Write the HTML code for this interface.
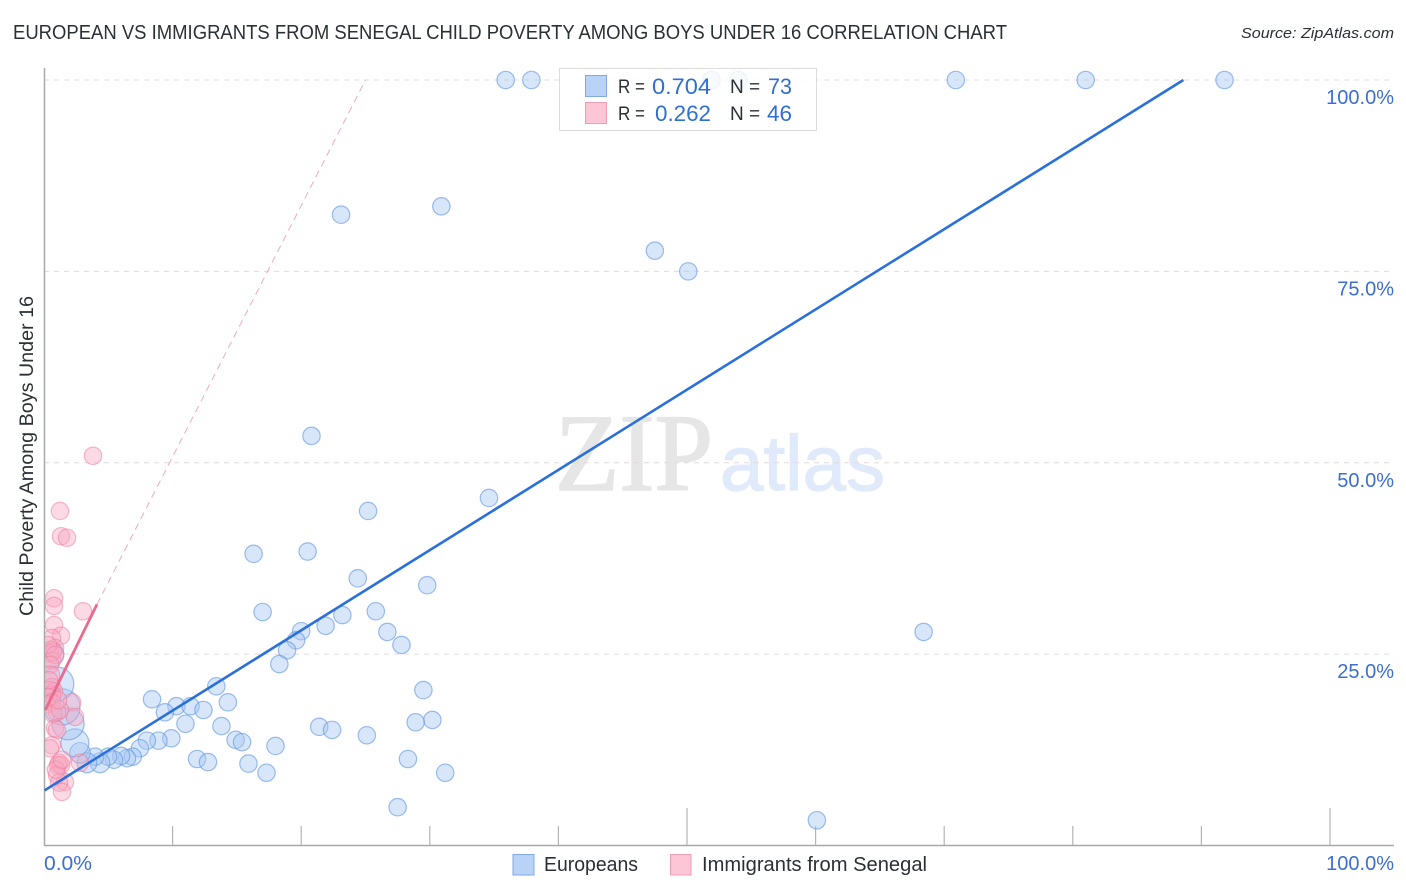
<!DOCTYPE html>
<html>
<head>
<meta charset="utf-8">
<title>European vs Immigrants from Senegal Child Poverty Among Boys Under 16 Correlation Chart</title>
<style>
html,body{margin:0;padding:0;background:#fff;width:1406px;height:892px;overflow:hidden}
svg{display:block;font-family:"Liberation Sans",sans-serif}
</style>
</head>
<body>
<svg id="chart" xmlns="http://www.w3.org/2000/svg" width="1406" height="892" viewBox="0 0 1406 892">
  <defs>
    <clipPath id="plot-clip"><rect x="45" y="60" width="1349" height="785"/></clipPath>
  </defs>
  <text x="13" y="39" font-size="20" fill="#2b2f36" textLength="994" lengthAdjust="spacingAndGlyphs">EUROPEAN VS IMMIGRANTS FROM SENEGAL CHILD POVERTY AMONG BOYS UNDER 16 CORRELATION CHART</text>
  <text x="1394" y="38" font-size="15" font-style="italic" fill="#2b2f36" text-anchor="end" textLength="153" lengthAdjust="spacingAndGlyphs">Source: ZipAtlas.com</text>
  <g>
    <text x="555" y="490" font-family="'Liberation Serif',serif" font-size="110" fill="#e6e6e6" stroke="#e6e6e6" stroke-width="1.6" textLength="158" lengthAdjust="spacingAndGlyphs">ZIP</text>
    <text x="720" y="490" font-size="78" fill="#e0eafa" stroke="#e0eafa" stroke-width="1.2" textLength="165" lengthAdjust="spacingAndGlyphs">atlas</text>
  </g>
  <g id="grid"></g>
  <g id="axes"></g>
  <g id="european-points" clip-path="url(#plot-clip)"></g>
  <g id="senegal-points" clip-path="url(#plot-clip)"></g>
  <g id="trends"></g>
  <g id="labels"></g>
  <text transform="translate(33,456) rotate(-90)" font-size="19" fill="#2b2f36" text-anchor="middle" textLength="320" lengthAdjust="spacingAndGlyphs">Child Poverty Among Boys Under 16</text>

  <g>
    <rect x="559.5" y="68.5" width="257" height="62" fill="#fff" fill-opacity="0.82" stroke="#dcdcdc" stroke-width="1"/>
    <rect x="585.5" y="75.5" width="21" height="21" fill="#b9d3f7" stroke="#7fa9e0"/>
    <rect x="585.5" y="102.5" width="21" height="21" fill="#fcc6d7" stroke="#f09db6"/>
    <text x="618" y="93" font-size="19" fill="#2b2f36" textLength="27" lengthAdjust="spacingAndGlyphs">R =</text>
    <text x="652" y="94" font-size="22" fill="#2f6fd0" textLength="59" lengthAdjust="spacingAndGlyphs">0.704</text>
    <text x="730" y="93" font-size="19" fill="#2b2f36">N =</text>
    <text x="768" y="94" font-size="22" fill="#2f6fd0" textLength="24" lengthAdjust="spacingAndGlyphs">73</text>
    <text x="618" y="120" font-size="19" fill="#2b2f36" textLength="27" lengthAdjust="spacingAndGlyphs">R =</text>
    <text x="655" y="121" font-size="22" fill="#2f6fd0" textLength="56" lengthAdjust="spacingAndGlyphs">0.262</text>
    <text x="730" y="120" font-size="19" fill="#2b2f36">N =</text>
    <text x="767" y="121" font-size="22" fill="#2f6fd0" textLength="25" lengthAdjust="spacingAndGlyphs">46</text>
  </g>

  <g>
    <g>
      <rect x="513" y="854.5" width="21" height="20.5" fill="#b9d3f7" stroke="#7fa9e0"/>
      <text x="544" y="871" font-size="20" fill="#2b2f36" textLength="94" lengthAdjust="spacingAndGlyphs">Europeans</text>
    </g>
    <g>
      <rect x="670.5" y="854.5" width="20.5" height="20.5" fill="#fcc6d7" stroke="#f09db6"/>
      <text x="702" y="871" font-size="20" fill="#2b2f36" textLength="225" lengthAdjust="spacingAndGlyphs">Immigrants from Senegal</text>
    </g>
  </g>
</svg>
<script>
const europeanX = [35.9,37.9,51.9,54.0,70.9,81.0,91.8,23.1,30.9,47.5,50.1,20.8,34.6,25.2,20.5,16.3,24.4,29.8,17.0,25.8,23.2,21.9,26.7,20.0,19.6,27.8,18.9,18.3,68.4,13.4,29.5,8.4,14.3,10.3,11.4,9.4,12.4,30.2,28.9,11.0,13.8,21.4,22.4,25.1,14.9,15.4,9.9,8.9,8.0,18.0,7.46,6.9,6.45,6.0,5.44,4.98,4.35,3.97,3.34,11.9,12.75,28.3,15.9,17.3,31.2,27.5,60.1,2.8,2.4,1.87,1.4,1.0,0.54];
const europeanY = [100,100,100,100,100,100,100,82.4,83.5,77.7,75.0,53.5,45.4,43.7,38.4,38.1,34.9,34.0,30.5,30.6,30.1,28.7,27.9,28.0,26.8,26.2,25.5,23.7,27.9,20.8,20.3,19.1,18.7,18.2,18.2,17.4,17.7,16.4,16.1,15.9,15.6,15.5,15.1,14.4,13.8,13.5,14.0,13.7,13.7,13.0,12.7,11.6,11.4,11.7,11.2,11.6,10.8,11.6,10.8,11.3,10.9,11.3,10.7,9.5,9.5,5.0,3.3,12.1,13.4,15.9,18.1,21.1,25.0];
const europeanWeight = [1,1,1,1,1,1,1,1,1,1,1,1,1,1,1,1,1,1,1,1,1,1,1,1,1,1,1,1,1,1,1,1,1,1,1,1,1,1,1,1,1,1,1,1,1,1,1,1,1,1,1,1,1,1,1,1,1.3,1,1.3,1,1,1,1,1,1,1,1,1.4,2.6,3.4,4.3,3.8,2.2];
const senegalX = [0.78,0.78,3.81,1.24,1.32,1.79,3.03,0.78,1.32,0.62,0.86,0.47,0.62,0.7,0.31,0.86,0.47,0.54,0.62,0.47,0.78,0.62,0.31,0.62,0.23,2.18,1.01,0.7,1.24,2.41,0.86,1.01,0.62,0.47,1.17,1.09,1.32,1.01,1.63,1.17,1.4,2.8,0.93,1.4,0.39,1.09];
const senegalY = [32.3,31.3,50.9,43.7,40.4,40.2,30.6,28.8,27.4,27.1,25.8,25.1,24.2,25.3,26.2,24.9,23.6,22.3,20.7,20.3,20.1,19.7,19.4,18.7,18.4,18.7,17.4,17.2,17.7,16.8,15.3,15.1,13.1,12.7,10.8,10.5,10.5,9.2,8.3,8.2,7.0,10.8,9.9,11.2,21.6,19.0];
const europeanTrendX = [0.05,88.6];
const europeanTrendY = [7.2,100];
const senegalTrendX = [0.1,4.12];
const senegalTrendY = [17.7,31.5];
const senegalExtendedX = [4.12,25];
const senegalExtendedY = [31.5,100];
const xTickValues = [0,10,20,30,40,50,60,70,80,90,100];
const majorXTicks = [50,100];
const yGridValues = [25,50,75,100];
const yTickLabels = ["25.0%","50.0%","75.0%","100.0%"];
const xEndLabels = ["0.0%","100.0%"];

const SVG_NS = "http://www.w3.org/2000/svg";
const xAt = v => 44 + v * 12.86;
const yAt = v => 845.5 - v * 7.655;
const radiusAt = w => 8.7 * Math.sqrt(w);

function make(tag, parentId, attrs) {
  const el = document.createElementNS(SVG_NS, tag);
  for (const k in attrs) el.setAttribute(k, attrs[k]);
  document.getElementById(parentId).appendChild(el);
  return el;
}

yGridValues.forEach(v => {
  const el = make("line", "grid", {x1: 44, x2: 1394, y1: yAt(v), y2: yAt(v), stroke: "#e0dcdc", "stroke-width": 1, "stroke-dasharray": "5 5"});
  
  
});

const yAxisLine = make("line", "axes", {x1: 44.5, x2: 44.5, y1: 68, y2: 846, stroke: "#a8a8a8", "stroke-width": 1.5});


const xAxisLine = make("line", "axes", {x1: 44, x2: 1394, y1: 845.5, y2: 845.5, stroke: "#a8a8a8", "stroke-width": 1.5});



xTickValues.slice(1).forEach(v => {
  const top = majorXTicks.includes(v) ? 808 : 826;
  const el = make("line", "axes", {x1: xAt(v), x2: xAt(v), y1: top, y2: 845, stroke: "#b4b4b4", "stroke-width": 1.2});
  
  
});

europeanX.forEach((v, i) => {
  const el = make("circle", "european-points", {cx: xAt(v), cy: yAt(europeanY[i]), r: radiusAt(europeanWeight[i]), fill: "#a8c8f5", "fill-opacity": 0.45, stroke: "#5f95dd", "stroke-opacity": 0.6, "stroke-width": 1.2});
  
  
});

senegalX.forEach((v, i) => {
  const el = make("circle", "senegal-points", {cx: xAt(v), cy: yAt(senegalY[i]), r: 8.7, fill: "#f9a8c0", "fill-opacity": 0.42, stroke: "#ee7fa0", "stroke-opacity": 0.55, "stroke-width": 1.2});
  
  
});

const pinkDash = make("line", "trends", {x1: xAt(senegalExtendedX[0]), y1: yAt(senegalExtendedY[0]), x2: xAt(senegalExtendedX[1]), y2: yAt(senegalExtendedY[1]), stroke: "#eeaabd", "stroke-width": 1, "stroke-dasharray": "7 5"});


const pinkLine = make("line", "trends", {x1: xAt(senegalTrendX[0]), y1: yAt(senegalTrendY[0]), x2: xAt(senegalTrendX[1]), y2: yAt(senegalTrendY[1]), stroke: "#ea6a90", "stroke-width": 2.8});


const blueLine = make("line", "trends", {x1: xAt(europeanTrendX[0]), y1: yAt(europeanTrendY[0]), x2: xAt(europeanTrendX[1]), y2: yAt(europeanTrendY[1]), stroke: "#2a70d8", "stroke-width": 2.6});



yGridValues.forEach((v, i) => {
  const el = make("text", "labels", {x: 1394, y: yAt(v) + 24, "font-size": 20, fill: "#3b6fd1", "text-anchor": "end"});
  el.textContent = yTickLabels[i];
  
  
});

const xLabelStart = make("text", "labels", {x: 44, y: 870, "font-size": 20, fill: "#3b6fd1", textLength: 48, lengthAdjust: "spacingAndGlyphs"});
xLabelStart.textContent = xEndLabels[0];


const xLabelEnd = make("text", "labels", {x: 1394, y: 870, "font-size": 20, fill: "#3b6fd1", "text-anchor": "end"});
xLabelEnd.textContent = xEndLabels[1];


</script>
</body>
</html>
